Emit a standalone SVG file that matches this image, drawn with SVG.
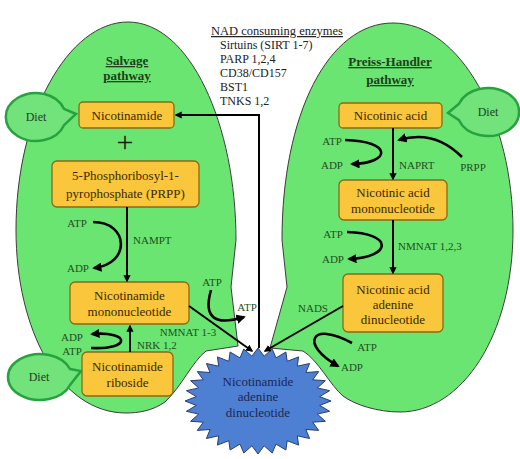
<svg xmlns="http://www.w3.org/2000/svg" width="520" height="459" viewBox="0 0 520 459">
<defs>
<style>
.green{fill:#6be571;stroke:#3c3c3c;stroke-width:1}
.box{fill:#f9c63c;stroke:#8a6a12;stroke-width:1.3}
.bt{font-family:"Liberation Serif",serif;font-size:13px;fill:#3a2800;text-anchor:middle}
.lb{font-family:"Liberation Serif",serif;font-size:11px;fill:#1f4f1f}
.mid{text-anchor:middle}
.ttl{font-family:"Liberation Serif",serif;font-size:13px;font-weight:bold;fill:#1e3e1e;text-anchor:middle;text-decoration:underline}
.enz{font-family:"Liberation Serif",serif;font-size:12px;fill:#222}
.diet{fill:#72e27a;stroke:#26a33e;stroke-width:2.5}
.dt{font-family:"Liberation Serif",serif;font-size:12px;fill:#1f3f1f;text-anchor:middle}
.ar{fill:none;stroke:#000;stroke-width:2;marker-end:url(#ah)}
.cv{fill:none;stroke:#000;stroke-width:2.6;marker-end:url(#ah)}
</style>
<marker id="ah" viewBox="0 0 10 10" refX="8" refY="5" markerWidth="3.6" markerHeight="3.6" orient="auto" markerUnits="strokeWidth">
<path d="M0,0 L10,5 L0,10 Z" fill="#000"/>
</marker>
</defs>
<rect width="520" height="459" fill="#fff"/>

<g id="salvage-region">
<path class="green" d="M128,22 C190,22 236,125 236,240 L231,287 L238,346 L206,351 C192,362 182,386 165,402 C152,411 138,413 126,413 C60,413 16,330 16,230 C16,115 68,22 128,22 Z"/>
<text class="ttl" x="127" y="65">Salvage</text>
<text class="ttl" x="127" y="80">pathway</text>
</g>

<g id="preiss-region">
<path class="green" d="M393,23 C460,23 513,120 513,230 C513,335 462,412 400,412 C378,412 355,405 343,396 C330,385 318,360 303,351 L270,348 L287,287 L282,240 C282,115 328,23 393,23 Z"/>
<text class="ttl" x="390" y="66">Preiss-Handler</text>
<text class="ttl" x="390" y="84">pathway</text>
</g>

<g id="enzymes">
<text class="enz" x="211" y="35" style="font-size:12.5px;text-decoration:underline">NAD consuming enzymes</text>
<text class="enz" x="220" y="49">Sirtuins (SIRT 1-7)</text>
<text class="enz" x="220" y="63">PARP 1,2,4</text>
<text class="enz" x="220" y="77">CD38/CD157</text>
<text class="enz" x="220" y="91">BST1</text>
<text class="enz" x="220" y="105">TNKS 1,2</text>
</g>

<g id="diet1">
<path class="diet" d="M64,108.8 L76,114 L64,125.2 A30 24 0 1 1 64,108.8 Z"/>
<text class="dt" x="36" y="121">Diet</text>
</g>
<g id="diet2">
<path class="diet" d="M70,369 L81,371 L70,385 A32 23 0 1 1 70,369 Z"/>
<text class="dt" x="39" y="381">Diet</text>
</g>
<g id="diet3">
<path class="diet" d="M459,103.8 L448,113 L459,120.2 A31 24 0 1 0 459,103.8 Z"/>
<text class="dt" x="488" y="116">Diet</text>
</g>

<g id="nicotinamide">
<rect class="box" x="79" y="102" width="95" height="26" rx="4"/>
<text class="bt" x="127" y="119.5">Nicotinamide</text>
</g>
<g id="plus">
<text x="125" y="152" style="font-family:'Liberation Serif',serif;font-size:30px;fill:#1a1a1a;text-anchor:middle">+</text>
</g>
<g id="prpp">
<rect class="box" x="52" y="161" width="147" height="46" rx="5"/>
<text class="bt" x="125.5" y="180">5-Phosphoribosyl-1-</text>
<text class="bt" x="125.5" y="198">pyrophosphate (PRPP)</text>
</g>
<g id="nmn">
<rect class="box" x="70" y="282" width="119" height="42" rx="5"/>
<text class="bt" x="129.5" y="300">Nicotinamide</text>
<text class="bt" x="129.5" y="316">mononucleotide</text>
</g>
<g id="nr">
<rect class="box" x="82" y="352" width="91" height="44" rx="5"/>
<text class="bt" x="127.5" y="371">Nicotinamide</text>
<text class="bt" x="127.5" y="387">riboside</text>
</g>
<g id="na">
<rect class="box" x="339" y="103" width="103" height="25" rx="4"/>
<text class="bt" x="390.5" y="120">Nicotinic acid</text>
</g>
<g id="namn">
<rect class="box" x="339" y="180" width="108" height="40" rx="5"/>
<text class="bt" x="393" y="197">Nicotinic acid</text>
<text class="bt" x="393" y="213">mononucleotide</text>
</g>
<g id="naad">
<rect class="box" x="343" y="274" width="100" height="58" rx="5"/>
<text class="bt" x="393" y="294">Nicotinic acid</text>
<text class="bt" x="393" y="309">adenine</text>
<text class="bt" x="393" y="324">dinucleotide</text>
</g>

<g id="nad">
<polygon transform="translate(258,401)" fill="#4d80d2" stroke="#2a3d6e" stroke-width="1" points="73,0 61.7,-4.4 71.6,-10.3 59.3,-13.1 67.4,-20.3 54.7,-21.2 60.7,-29.4 47.9,-28.5 51.6,-37.5 39.3,-34.8 40.6,-44.1 29.2,-39.7 27.9,-49 18,-43.1 14.2,-52 6.1,-44.8 0,-53 -6.1,-44.8 -14.2,-52 -18,-43.1 -27.9,-49 -29.2,-39.7 -40.6,-44.1 -39.3,-34.8 -51.6,-37.5 -47.9,-28.5 -60.7,-29.4 -54.7,-21.2 -67.4,-20.3 -59.3,-13.1 -71.6,-10.3 -61.7,-4.4 -73,0 -61.7,4.4 -71.6,10.3 -59.3,13.1 -67.4,20.3 -54.7,21.2 -60.7,29.4 -47.9,28.5 -51.6,37.5 -39.3,34.8 -40.6,44.1 -29.2,39.7 -27.9,49 -18,43.1 -14.2,52 -6.1,44.8 0,53 6.1,44.8 14.2,52 18,43.1 27.9,49 29.2,39.7 40.6,44.1 39.3,34.8 51.6,37.5 47.9,28.5 60.7,29.4 54.7,21.2 67.4,20.3 59.3,13.1 71.6,10.3 61.7,4.4"/>
<text x="258" y="386" style="font-family:'Liberation Serif',serif;font-size:13px;fill:#1c2755;text-anchor:middle">Nicotinamide</text>
<text x="258" y="401" style="font-family:'Liberation Serif',serif;font-size:13px;fill:#1c2755;text-anchor:middle">adenine</text>
<text x="258" y="417" style="font-family:'Liberation Serif',serif;font-size:13px;fill:#1c2755;text-anchor:middle">dinucleotide</text>
</g>

<g id="connectors">
<polyline class="ar" points="259,348 259,115 176,115"/>
<line class="ar" x1="127" y1="207" x2="127" y2="281"/>
<path class="cv" d="M93,222 C129,222 131,264 94,268"/>
<line class="ar" x1="130" y1="352" x2="130" y2="326"/>
<path class="cv" d="M91,348 C131,350 131,331 92,334"/>
<line class="ar" x1="189" y1="306" x2="252" y2="351"/>
<path class="cv" d="M211,290 C203,318 215,326 244,317"/>
<line class="ar" x1="393" y1="128" x2="393" y2="179"/>
<path class="cv" d="M345,140 C392,141 392,163 352,164"/>
<path class="cv" d="M462,157 C445,140 425,132 399,140"/>
<line class="ar" x1="393" y1="220" x2="393" y2="273"/>
<path class="cv" d="M347,232 C393,233 393,257 349,259"/>
<line class="ar" x1="343" y1="306" x2="265" y2="351"/>
<path class="cv" d="M352,343 C310,320 300,345 338,366"/>
</g>

<g id="labels">
<text class="lb mid" x="77" y="227">ATP</text>
<text class="lb mid" x="78" y="272">ADP</text>
<text class="lb" x="133" y="244">NAMPT</text>
<text class="lb mid" x="212" y="286">ATP</text>
<text class="lb mid" x="247" y="311">ATP</text>
<text class="lb mid" x="188" y="336">NMNAT 1-3</text>
<text class="lb mid" x="72" y="341">ADP</text>
<text class="lb mid" x="72" y="355">ATP</text>
<text class="lb" x="137" y="349">NRK 1,2</text>
<text class="lb mid" x="332" y="145">ATP</text>
<text class="lb mid" x="332" y="169">ADP</text>
<text class="lb" x="399" y="169">NAPRT</text>
<text class="lb mid" x="473" y="171">PRPP</text>
<text class="lb mid" x="333" y="238">ATP</text>
<text class="lb mid" x="333" y="263">ADP</text>
<text class="lb" x="398" y="250">NMNAT 1,2,3</text>
<text class="lb mid" x="313" y="312">NADS</text>
<text class="lb mid" x="367" y="351">ATP</text>
<text class="lb mid" x="352" y="371">ADP</text>
</g>
</svg>
